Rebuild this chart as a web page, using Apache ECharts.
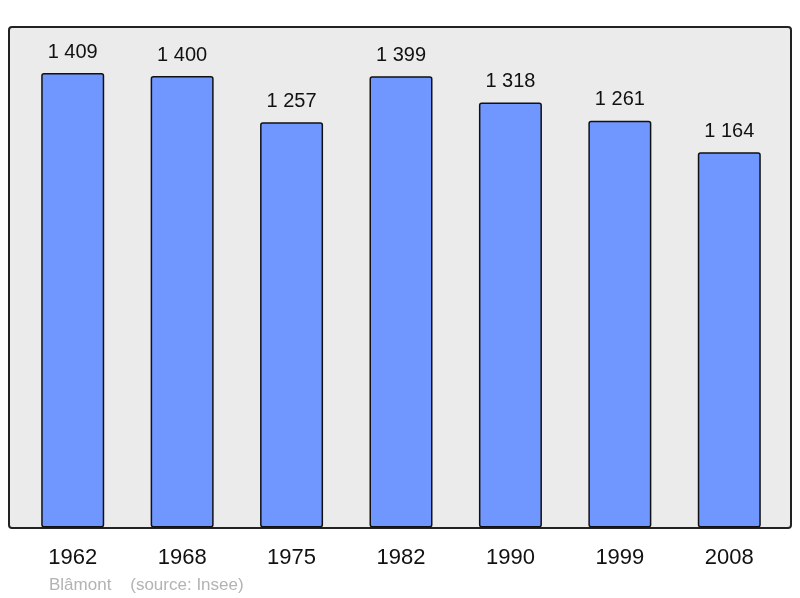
<!DOCTYPE html>
<html><head><meta charset="utf-8">
<script src="https://cdn.jsdelivr.net/npm/echarts@6/dist/echarts.min.js"></script>
<style>html,body{margin:0;padding:0;background:#fff}#c{width:800px;height:598px}</style>
</head><body><div id="c"></div>
<script>
const years = ['1962','1968','1975','1982','1990','1999','2008'];
const population = [1409,1400,1257,1399,1318,1261,1164];
const caption = 'Blâmont    (source: Insee)';

const chart = echarts.init(document.getElementById('c'), null, {renderer:'canvas'});
chart.setOption({
  animation:false,
  backgroundColor:'#ffffff',
  graphic:[
    {type:'rect', z:-10, shape:{x:9,y:27,width:782,height:501,r:3},
     style:{fill:'#ebebeb',stroke:'#222',lineWidth:2}},
    {type:'text', left:49, top:577, style:{text:caption, fill:'#b3b3b3', font:'17px "Liberation Sans", Arial, sans-serif'}}
  ],
  grid:{left:18, right:16, top:27, bottom:70.5},
  xAxis:{type:'category', data:years,
    axisLine:{show:false}, axisTick:{show:false},
    axisLabel:{color:'#111', fontSize:22, fontFamily:'Liberation Sans, Arial, sans-serif', margin:19}},
  yAxis:{type:'value', min:0, max:1552, show:false, splitLine:{show:false}},
  series:[{type:'bar', data:population, barWidth:63,
    itemStyle:{color:'#7096ff', borderColor:'#111', borderWidth:1.5, borderRadius:2},
    label:{show:true, position:'top', distance:11, color:'#111', fontSize:20,
      fontFamily:'Liberation Sans, Arial, sans-serif',
      formatter:p=>String(p.value).replace(/\B(?=(\d{3})+(?!\d))/g,' ')}
  }]
});
</script></body></html>
